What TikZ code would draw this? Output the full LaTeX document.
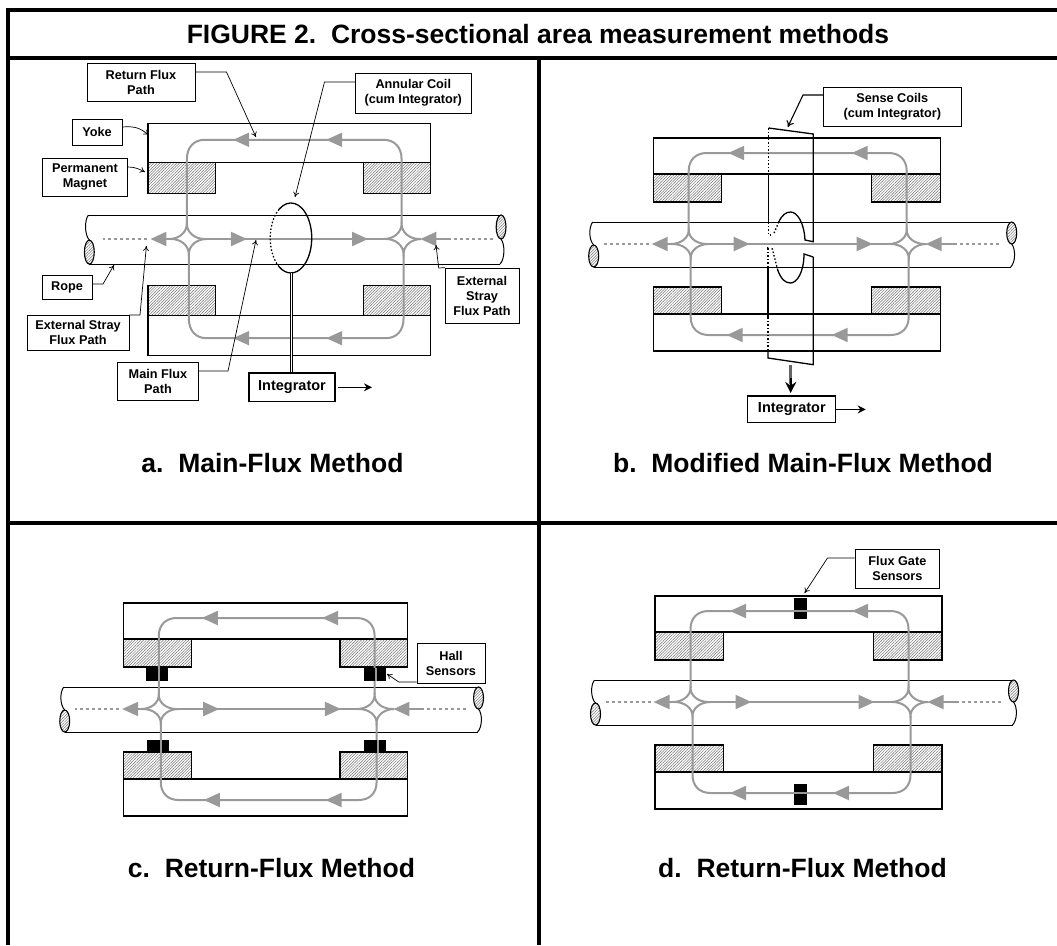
\documentclass[tikz,border=0pt]{standalone}
\usepackage{fontspec}
\setmainfont{Liberation Sans}
\usetikzlibrary{arrows.meta,patterns.meta}
\definecolor{fluxgray}{gray}{0.6}
\tikzset{
  frameline/.style={line width=4pt},
  steelbox/.style={draw, line width=1.1pt, fill=white},
  magnetbox/.style={draw, line width=1.1pt, pattern={Lines[angle=45,distance=2pt,line width=0.5pt]}, pattern color=black!55},
  ropeline/.style={line width=1pt},
  fluxline/.style={draw=fluxgray, line width=2pt},
  fluxhead/.style={fluxgray, line width=2pt, -{Triangle[length=16pt,width=14pt]}},
  fluxdots/.style={fluxgray, line width=2.4pt, dash pattern=on 3pt off 3pt},
  labelbox/.style={draw, line width=0.7pt, fill=white, font=\fontsize{12.7}{15}\selectfont\bfseries, align=center, inner sep=0pt},
  leader/.style={line width=0.7pt, -{To[length=5pt,width=6pt]}},
  intbox/.style={draw, line width=1.3pt, fill=white, font=\fontsize{14.5}{16}\selectfont\bfseries, inner sep=0pt},
  outarrow/.style={line width=1.2pt, -{Stealth[length=8pt,width=8pt]}},
  coilline/.style={line width=1.3pt},
  coildots/.style={line width=1.3pt, dash pattern=on 1.5pt off 2pt},
  caption/.style={font=\fontsize{26.5}{30}\selectfont\bfseries, anchor=base},
}
% cx, cy, xscale, yscale, the tips of the yoke arrows, shift of the flux loop
\newcommand{\ropeunit}[9]{
\begin{scope}[shift={(#1,#2)}, xscale=#3, yscale=#4]
  \filldraw[steelbox] (-143.5,-106) rectangle (143.5,-70);
  \filldraw[steelbox] (-143.5,70) rectangle (143.5,107);
  \filldraw[magnetbox] (-143.5,-70) rectangle (-75,-42);
  \filldraw[magnetbox] (75,-70) rectangle (143.5,-42);
  \filldraw[magnetbox] (-143.5,43) rectangle (-75,70);
  \filldraw[magnetbox] (75,43) rectangle (143.5,70);
  % rope
  \draw[ropeline] (-204,-22) -- (214,-22);
  \draw[ropeline] (-203,23) -- (214,23);
  \draw[ropeline] (-204,-22) .. controls (-208,-17) and (-208,-4) .. (-203,1);
  \draw[ropeline] (215,0) .. controls (219,5) and (219,18) .. (214,23);
  \filldraw[magnetbox] (-203,12) ellipse (5 and 11);
  \filldraw[magnetbox] (215,-11) ellipse (5 and 11);
  % flux
  \begin{scope}[xshift=#9]
  \draw[fluxline] (-108,-14) -- (-108,-73) .. controls (-108,-84) and (-101,-91) .. (-90,-91) -- (92,-91) .. controls (103,-91) and (110,-84) .. (110,-73) -- (110,-14);
  \draw[fluxline] (-106,14) -- (-106,73) .. controls (-106,84) and (-99,91) .. (-88,91) -- (94,91) .. controls (105,91) and (112,84) .. (112,73) -- (112,14);
  \draw[fluxline] (-90,0) -- (92,0);
  \draw[fluxline] (-126,0) .. controls (-116,0) and (-108,-6) .. (-108,-14) .. controls (-108,-6) and (-100,0) .. (-90,0);
  \draw[fluxline] (-124,0) .. controls (-114,0) and (-106,6) .. (-106,14) .. controls (-106,6) and (-98,0) .. (-88,0);
  \draw[fluxline] (128,0) .. controls (118,0) and (110,-6) .. (110,-14) .. controls (110,-6) and (102,0) .. (92,0);
  \draw[fluxline] (130,0) .. controls (120,0) and (112,6) .. (112,14) .. controls (112,6) and (104,0) .. (94,0);
  \draw[fluxhead] (-120,0) -- (-145,0);
  \draw[fluxdots] (-148,0) -- (-193,0);
  \draw[fluxhead] (160,0) -- (129,0);
  \draw[fluxdots] (163,0) -- (203,0);
  \draw[fluxhead] (-72,0) -- (-47,0);
  \draw[fluxhead] (50,0) -- (76,0);
  \draw[fluxhead] (#5+24,-91) -- (#5,-91);
  \draw[fluxhead] (#6+24,-91) -- (#6,-91);
  \draw[fluxhead] (#7+24,91) -- (#7,91);
  \draw[fluxhead] (#8+24,91) -- (#8,91);
  \end{scope}
\end{scope}
}
\begin{document}
\begin{tikzpicture}[x=1pt, y=-1pt]
\useasboundingbox (0,0) rectangle (1057,945);
\fill[white] (0,0) rectangle (1057,945);
% panels, drawn first
\ropeunit{289.3}{239}{0.985}{1.09}{-61}{33.5}{-61}{33.5}{4}
\ropeunit{796.7}{244}{1}{1}{-68.5}{55}{-70}{35}{0}
\ropeunit{265.7}{709}{0.99}{1}{-64.5}{57}{-62.5}{60.5}{0}
\ropeunit{798.5}{702}{1}{1}{-68.5}{53.5}{-68.5}{34.5}{0}
% frame
\draw[frameline] (8,8) -- (8,945);
\draw[frameline] (538.7,58) -- (538.7,945);
\draw[frameline] (6,10) -- (1057,10);
\draw[frameline] (6,58) -- (1057,58);
\draw[frameline] (6,523) -- (1057,523);
\node[caption] (title) at (538,43) {FIGURE 2.\ \ Cross-sectional area measurement methods};
% a
\draw[coildots] (291,238) ++(-125:20.8 and 35) arc[start angle=-125, end angle=-235, x radius=20.8, y radius=35];
\draw[coilline] (279,209.3) arc[start angle=-125, end angle=125, x radius=20.8, y radius=35];
\coordinate (coilfoot) at (291.4,273);
\node[labelbox, minimum width=108pt, minimum height=38pt] (returnbox) at (141,82) {Return Flux\\Path};
\node[labelbox, minimum width=115.5pt, minimum height=40pt] (annularbox) at (413.3,93) {Annular Coil\\(cum Integrator)};
\node[labelbox, minimum width=49.7pt, minimum height=26pt] (yokebox) at (97,132) {Yoke};
\node[labelbox, minimum width=85.5pt, minimum height=38pt] (permbox) at (85,177) {Permanent\\Magnet};
\node[labelbox, minimum width=50pt, minimum height=24pt] (ropebox) at (67,287) {Rope};
\node[labelbox, minimum width=102pt, minimum height=35pt] (strayleft) at (78,332.5) {External Stray\\Flux Path};
\node[labelbox, minimum width=81pt, minimum height=38pt] (mainbox) at (158,381) {Main Flux\\Path};
\node[labelbox, minimum width=73.7pt, minimum height=55pt] (strayright) at (482,295.5) {External\\Stray\\Flux Path};
\node[intbox, minimum width=86pt, minimum height=28.5pt] (intA) at (292,387.3) {Integrator};
\coordinate (outA) at (372,387.3);
\draw[leader] (returnbox.east |- 195,72) -- (226.5,72) -- (255.9,137);
\draw[leader] (annularbox.west |- 353,82) -- (324.5,82) -- (295,197);
\draw[leader] (yokebox.east |- 124,127) .. controls (135,126) and (140,128) .. (148.7,135);
\draw[leader] (permbox.east |- 128,167) .. controls (135,167) and (139,169) .. (145,172);
\draw[leader] (ropebox.east |- 94.6,284) -- (103,284) -- (114,265);
\draw[leader] (strayleft.east |- 132,315) -- (140,315) -- (146.4,246);
\draw[leader] (mainbox.east |- 200,371) -- (228,371) -- (256,240);
\draw[leader] (strayright.north west) -- (438.7,268) -- (436,245);
\draw[line width=3pt] (coilfoot) -- (intA.north -| coilfoot);
\draw[line width=1pt, white] (coilfoot) -- (intA.north -| coilfoot);
\draw[outarrow] (intA.east) ++(2,0) -- (outA);
\node[caption] (capA) at (272.5,472) {a.\ \ Main-Flux Method};
% b
\draw[coilline] (768.6,173) -- (768.6,222);
\draw[coildots] (768.6,128) -- (768.6,173);
\draw[coildots] (768.6,222) -- (768.6,235) -- (772,235);
\draw[coilline] (768.6,128) -- (813.3,134) -- (813.3,241.7) -- (805,240) .. controls (804,222) and (797,212) .. (790.5,212) .. controls (786,212) and (782,215) .. (778.7,222);
\draw[coildots] (778.7,222) -- (773.7,234);
\draw[coilline] (813.3,257) -- (813.3,364.7) -- (768,358) -- (768,350);
\draw[coildots] (768,350) -- (768,317);
\draw[coilline] (768,317) -- (768,267);
\draw[coildots] (768,267) -- (768,248) -- (770,248);
\draw[coilline] (813.3,257) -- (804,254) .. controls (804,272) and (797,283) .. (790.5,283) .. controls (785,283) and (781,279) .. (777.7,270);
\draw[coildots] (777.7,270) -- (772,248);
\node[labelbox, minimum width=137.8pt, minimum height=39pt] (sensebox) at (892.3,106.5) {Sense Coils\\(cum Integrator)};
\node[intbox, minimum width=88pt, minimum height=26.7pt] (intB) at (791.8,409.4) {Integrator};
\coordinate (footB) at (790.7,365);
\coordinate (outB) at (865.7,409.4);
\draw[line width=1.1pt, -{To[length=6pt,width=8pt]}] (sensebox.west |- 817.4,95) -- (803,95) -- (787.8,127);
\draw[line width=3pt, black!60] (footB) -- (790.7,384);
\draw[line width=2.2pt, -{Stealth[length=11pt,width=11pt]}] (790.7,378) -- (790.7,393);
\draw[outarrow] (intB.east) -- (outB);
\node[caption] (capB) at (803,472) {b.\ \ Modified Main-Flux Method};
% c
\foreach \sx/\sy in {146/668, 363.7/668, 146.5/740, 364/740}
  \fill (\sx,\sy) rectangle ++(22.3,13);
\draw[fluxline] (158.7,668) -- (158.7,681);
\draw[fluxline] (376,668) -- (376,681);
\draw[fluxline] (160.7,740) -- (160.7,753);
\draw[fluxline] (377.9,740) -- (377.9,753);
\node[labelbox, minimum width=68pt, minimum height=40pt] (hallbox) at (451,663) {Hall\\Sensors};
\draw[leader] (hallbox.west |- 415,682) -- (398.8,682) -- (387,674);
\node[caption] (capC) at (271.5,877) {c.\ \ Return-Flux Method};
% d
\fill (794,598) rectangle (806.5,619);
\fill (794,784) rectangle (807,805);
\draw[fluxline] (794,611) -- (806.5,611);
\draw[fluxline] (794,793) -- (807,793);
\node[labelbox, minimum width=84.7pt, minimum height=39pt] (gatebox) at (897.4,568.5) {Flux Gate\\Sensors};
\draw[leader] (gatebox.west |- 849.3,558) -- (827.5,558) -- (804.6,593);
\node[caption] (capD) at (802.5,877) {d.\ \ Return-Flux Method};
\end{tikzpicture}
\end{document}
